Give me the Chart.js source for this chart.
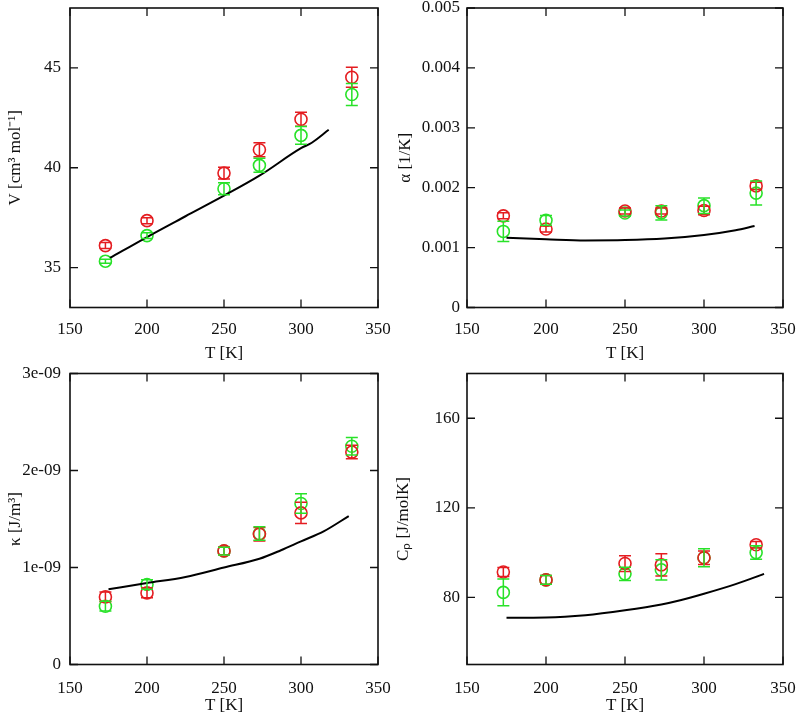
<!DOCTYPE html>
<html>
<head>
<meta charset="utf-8">
<script src="https://cdn.jsdelivr.net/npm/chart.js@4.4.1/dist/chart.umd.min.js"></script>
<style>
  body { margin: 0; background: #fff; }
  #wrap { position: relative; width: 800px; height: 715px; overflow: hidden; }
  .box { position: absolute; }
</style>
</head>
<body>
<div id="wrap">
  <div class="box" style="left:0;top:0"><canvas id="cV" width="400" height="365"></canvas></div>
  <div class="box" style="left:390px;top:0"><canvas id="cA" width="410" height="365"></canvas></div>
  <div class="box" style="left:0;top:357px"><canvas id="cK" width="400" height="358"></canvas></div>
  <div class="box" style="left:390px;top:357px"><canvas id="cC" width="410" height="358"></canvas></div>
</div>
<script>
// temperatures of the simulated points
const temps = [173, 200, 250, 273, 300, 333];

// molar volume V
const vRed = [36.1, 37.35, 39.73, 40.9, 42.43, 44.53];
const vRedErr = [0.15, 0.15, 0.3, 0.35, 0.35, 0.5];
const vGreen = [35.32, 36.6, 38.95, 40.12, 41.62, 43.67];
const vGreenErr = [0.1, 0.15, 0.3, 0.35, 0.45, 0.55];
const vLineT = [176, 200, 225, 250, 273, 300, 307, 318];
const vLine = [35.48, 36.53, 37.57, 38.6, 39.6, 40.98, 41.25, 41.9];

// thermal expansion alpha
const aRed = [0.00153, 0.00131, 0.00161, 0.00161, 0.00162, 0.00203];
const aRedErr = [0.00005, 0.00005, 0.00005, 0.00005, 0.00007, 0.00006];
const aGreen = [0.00127, 0.001455, 0.001577, 0.00158, 0.0017, 0.00191];
const aGreenErr = [0.00017, 0.00008, 0.00005, 0.00012, 0.00013, 0.0002];
const aLineT = [175, 200, 225, 250, 275, 300, 320, 332];
const aLine = [0.001165, 0.00114, 0.00112, 0.001125, 0.00115, 0.00121, 0.00129, 0.00136];

// compressibility kappa
const kRed = [0.697e-9, 0.738e-9, 1.171e-9, 1.343e-9, 1.563e-9, 2.19e-9];
const kRedErr = [0.05e-9, 0.05e-9, 0.04e-9, 0.07e-9, 0.11e-9, 0.07e-9];
const kGreen = [0.601e-9, 0.825e-9, 1.17e-9, 1.35e-9, 1.66e-9, 2.25e-9];
const kGreenErr = [0.05e-9, 0.05e-9, 0.04e-9, 0.07e-9, 0.1e-9, 0.09e-9];
const kLineT = [175, 200, 225, 250, 273, 287, 300, 315, 331];
const kLine = [0.776e-9, 0.84e-9, 0.903e-9, 1.0e-9, 1.09e-9, 1.178e-9, 1.27e-9, 1.375e-9, 1.53e-9];

// heat capacity Cp
const cRed = [91.3, 87.8, 95.1, 94.5, 97.7, 103.5];
const cRedErr = [2, 2, 3.5, 5, 3, 1.5];
const cGreen = [82.2, 87.8, 90.5, 92.3, 97.7, 100];
const cGreenErr = [6, 2, 3, 4.5, 4, 3];
const cLineT = [175, 200, 225, 250, 273, 285, 300, 320, 338];
const cLine = [70.9, 71.0, 72.0, 74.2, 76.8, 78.7, 81.6, 85.9, 90.5];

// tick labels
const xTicks = [150, 200, 250, 300, 350];
const vTicks = [35, 40, 45];
const aTicks = [0, 0.001, 0.002, 0.003, 0.004, 0.005];
const kTicks = [0, 1e-9, 2e-9, 3e-9];
const cTicks = [80, 120, 160];

const RED = 'rgb(228,28,32)';
const GREEN = 'rgb(40,226,40)';
const FONT = { family: "'Liberation Serif', 'Times New Roman', serif", size: 17 };

// error bars + frame with inward ticks (gnuplot look)
const gnuFrame = {
  id: 'gnuFrame',
  afterDatasetsDraw(chart) {
    const { ctx, chartArea: a, scales: { x, y } } = chart;
    ctx.save();
    chart.data.datasets.forEach(ds => {
      if (!ds.errors) return;
      ctx.strokeStyle = ds.borderColor;
      ctx.lineWidth = 1.5;
      ds.data.forEach((p, i) => {
        const px = x.getPixelForValue(p.x);
        const y1 = y.getPixelForValue(p.y - ds.errors[i]);
        const y2 = y.getPixelForValue(p.y + ds.errors[i]);
        ctx.beginPath();
        ctx.moveTo(px, y1); ctx.lineTo(px, y2);
        ctx.moveTo(px - 6, y1); ctx.lineTo(px + 6, y1);
        ctx.moveTo(px - 6, y2); ctx.lineTo(px + 6, y2);
        ctx.stroke();
      });
    });
    ctx.strokeStyle = '#111';
    ctx.lineWidth = 1.3;
    ctx.beginPath();
    x.ticks.forEach(t => {
      const px = x.getPixelForValue(t.value);
      ctx.moveTo(px, a.bottom); ctx.lineTo(px, a.bottom - 8);
      ctx.moveTo(px, a.top); ctx.lineTo(px, a.top + 8);
    });
    y.ticks.forEach(t => {
      const py = y.getPixelForValue(t.value);
      ctx.moveTo(a.left, py); ctx.lineTo(a.left + 8, py);
      ctx.moveTo(a.right, py); ctx.lineTo(a.right - 8, py);
    });
    ctx.stroke();
    ctx.lineWidth = 1.6;
    ctx.strokeRect(a.left, a.top, a.right - a.left, a.bottom - a.top);
    ctx.restore();
  }
};

function pts(xs, ys) {
  return xs.map((v, i) => ({ x: v, y: ys[i] }));
}

function makePlot(id, o) {
  return new Chart(document.getElementById(id), {
    type: 'scatter',
    data: {
      datasets: [
        {
          label: 'model',
          data: pts(o.lineT, o.line),
          showLine: true,
          borderColor: '#000',
          borderWidth: 2,
          pointRadius: 0,
          cubicInterpolationMode: 'monotone'
        },
        {
          label: 'red',
          data: pts(temps, o.red),
          errors: o.redErr,
          borderColor: RED,
          backgroundColor: 'rgba(0,0,0,0)',
          pointRadius: 6,
          pointBorderWidth: 1.6
        },
        {
          label: 'green',
          data: pts(temps, o.green),
          errors: o.greenErr,
          borderColor: GREEN,
          backgroundColor: 'rgba(0,0,0,0)',
          pointRadius: 6,
          pointBorderWidth: 1.6
        }
      ]
    },
    options: {
      responsive: false,
      animation: false,
      layout: { padding: { top: o.top, right: o.right, left: 0, bottom: 0 } },
      plugins: { legend: { display: false }, tooltip: { enabled: false } },
      scales: {
        x: {
          type: 'linear',
          min: 150, max: 350,
          grid: { display: false, drawTicks: false },
          border: { display: false },
          afterBuildTicks: s => { s.ticks = xTicks.map(v => ({ value: v })); },
          afterFit: s => { s.height = o.xh; s.paddingLeft = 0; s.paddingRight = 0; },
          ticks: { color: '#111', font: FONT, padding: o.xpad, maxRotation: 0 },
          title: { display: true, text: 'T [K]', color: '#111', font: FONT, padding: { top: 0, bottom: o.xtp } }
        },
        y: {
          type: 'linear',
          min: o.ymin, max: o.ymax,
          grid: { display: false, drawTicks: false },
          border: { display: false },
          afterBuildTicks: s => { s.ticks = o.yTicks.map(v => ({ value: v })); },
          afterFit: s => { s.width = o.yw; s.paddingTop = 0; s.paddingBottom = 0; },
          ticks: { color: '#111', font: FONT, padding: o.ypad, callback: o.fmt },
          title: { display: true, text: o.ytitle, color: '#111', font: FONT, padding: { top: o.ytp, bottom: 0 } }
        }
      }
    },
    plugins: [gnuFrame]
  });
}

makePlot('cV', {
  lineT: vLineT, line: vLine, red: vRed, redErr: vRedErr, green: vGreen, greenErr: vGreenErr,
  ymin: 33, ymax: 48, yTicks: vTicks, fmt: v => String(v),
  ytitle: 'V [cm³ mol⁻¹]',
  top: 8, right: 22, yw: 70, xh: 57.5, xpad: 12, xtp: 1, ypad: 9, ytp: 5
});

makePlot('cA', {
  lineT: aLineT, line: aLine, red: aRed, redErr: aRedErr, green: aGreen, greenErr: aGreenErr,
  ymin: 0, ymax: 0.005, yTicks: aTicks, fmt: v => (v === 0 ? '0' : v.toFixed(3)),
  ytitle: 'α [1/K]',
  top: 8, right: 17, yw: 77, xh: 57.5, xpad: 12, xtp: 1, ypad: 7, ytp: 5
});

makePlot('cK', {
  lineT: kLineT, line: kLine, red: kRed, redErr: kRedErr, green: kGreen, greenErr: kGreenErr,
  ymin: 0, ymax: 3e-9, yTicks: kTicks,
  fmt: v => (v === 0 ? '0' : v.toExponential(0).replace(/e-(\d)$/, 'e-0$1')),
  ytitle: 'κ [J/m³]',
  top: 16.5, right: 22, yw: 70, xh: 50.5, xpad: 14, xtp: -1, ypad: 9, ytp: 5
});

makePlot('cC', {
  lineT: cLineT, line: cLine, red: cRed, redErr: cRedErr, green: cGreen, greenErr: cGreenErr,
  ymin: 50, ymax: 180, yTicks: cTicks, fmt: v => String(v),
  ytitle: 'Cₚ [J/molK]',
  top: 16.5, right: 17, yw: 77, xh: 50.5, xpad: 14, xtp: -1, ypad: 7, ytp: 3
});
</script>
</body>
</html>
